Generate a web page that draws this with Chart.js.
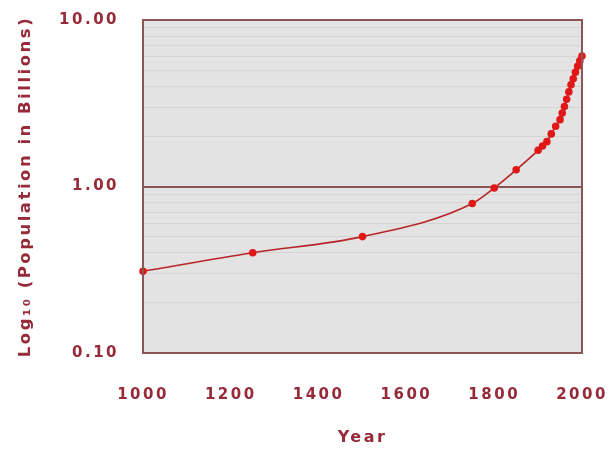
<!DOCTYPE html>
<html>
<head>
<meta charset="utf-8">
<script src="https://cdn.jsdelivr.net/npm/chart.js@4"></script>
<style>
html,body{margin:0;padding:0;background:#fff;}
#wrap{width:611px;height:454px;}
</style>
</head>
<body>
<div id="wrap"><canvas id="c" width="611" height="454"></canvas></div>
<script>
const years = [1000, 1250, 1500, 1750, 1800, 1850, 1900, 1910, 1920, 1930, 1940, 1950, 1955, 1960, 1965, 1970, 1975, 1980, 1985, 1990, 1995, 2000];
const population = [0.31, 0.40, 0.50, 0.79, 0.98, 1.26, 1.65, 1.75, 1.86, 2.07, 2.30, 2.52, 2.76, 3.02, 3.34, 3.70, 4.08, 4.44, 4.85, 5.27, 5.68, 6.07];
const xTicks = [1000, 1200, 1400, 1600, 1800, 2000];
const yMajorTicks = [0.1, 1, 10];
const yMinorTicks = [0.2,0.3,0.4,0.5,0.6,0.7,0.8,0.9,2,3,4,5,6,7,8,9];

const textColor = '#962a38';
const borderColor = '#8a5656';
const fam = '"DejaVu Sans", Verdana, sans-serif';
const tickFont = {family: fam, size: 15, weight: 'bold'};
const titleFont = {family: fam, size: 16, weight: 'bold'};
const yTitleFont = {family: fam, size: 16.5, weight: 'bold'};
const LS = '2.5px';

const plotBg = {
  id: 'plotBg',
  beforeInit(chart){ chart.ctx.letterSpacing = LS; },
  beforeUpdate(chart){ chart.ctx.letterSpacing = LS; },
  beforeDraw(chart){
    const {ctx, chartArea:a} = chart;
    ctx.save();
    ctx.fillStyle = '#e3e3e3';
    ctx.fillRect(a.left, a.top, a.right-a.left, a.bottom-a.top);
    ctx.restore();
    ctx.letterSpacing = LS;
  },
  afterDatasetsDraw(chart){
    const {ctx, chartArea:a} = chart;
    ctx.save();
    ctx.strokeStyle = borderColor;
    ctx.lineWidth = 2;
    ctx.strokeRect(a.left, a.top, a.right-a.left, a.bottom-a.top);
    ctx.restore();
  }
};

const allY = yMajorTicks.concat(yMinorTicks).sort((a,b)=>a-b);

new Chart(document.getElementById('c'), {
  type: 'line',
  data: {
    datasets: [{
      data: years.map((y,i)=>({x:y, y:population[i]})),
      borderColor: '#b82428',
      borderWidth: 1.6,
      pointBackgroundColor: '#e01818',
      pointBorderColor: '#e01818',
      pointRadius: 3,
      cubicInterpolationMode: 'monotone',
      clip: false
    }]
  },
  options: {
    responsive: false,
    animation: false,
    layout: {padding: {top: 20, right: 29, left: 0, bottom: 0}},
    plugins: {legend: {display: false}, tooltip: {enabled: false}},
    scales: {
      x: {
        type: 'linear', min: 1000, max: 2000,
        afterBuildTicks(s){ s.ticks = xTicks.map(v=>({value:v})); },
        afterFit(s){ s.height = 101; s.paddingLeft = 0; s.paddingRight = 0; },
        grid: {display: false, drawTicks: false},
        border: {display: false},
        ticks: {color: textColor, font: tickFont, padding: 33, maxRotation: 0, autoSkip: false,
          callback: v => String(v)},
        title: {display: true, text: 'Year', color: textColor, font: titleFont, padding: {top: 0, bottom: 7}}
      },
      y: {
        type: 'logarithmic', min: 0.1, max: 10,
        afterBuildTicks(s){ s.ticks = allY.map(v=>({value:v, major: yMajorTicks.includes(v)})); },
        afterFit(s){ s.width = 143; s.paddingTop = 0; s.paddingBottom = 0; },
        grid: {
          drawTicks: false,
          color: c => (c.tick && yMajorTicks.includes(c.tick.value)) ? borderColor : '#d5d5d5',
          lineWidth: c => (c.tick && yMajorTicks.includes(c.tick.value)) ? 2 : 1
        },
        border: {display: false},
        ticks: {
          color: textColor, font: tickFont, padding: 24, autoSkip: false,
          callback: v => yMajorTicks.includes(v) ? v.toFixed(2) : ''
        },
        title: {display: true, text: 'Log₁₀ (Population in Billions)', color: textColor, font: yTitleFont, padding: {top: 16, bottom: 0}}
      }
    }
  },
  plugins: [plotBg]
});
</script>
</body>
</html>
